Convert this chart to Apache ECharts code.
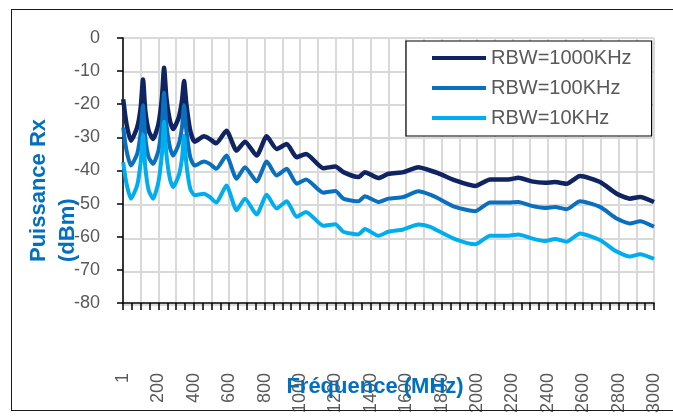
<!DOCTYPE html>
<html>
<head>
  <meta charset="utf-8" />
  <title>Puissance Rx</title>
  <script src="https://cdn.jsdelivr.net/npm/echarts@6/dist/echarts.min.js"></script>
  <style>
    html, body {
      margin: 0;
      padding: 0;
      background: #fff;
      overflow: hidden;
    }
    #main {
      width: 673px;
      height: 416px;
    }
    /* cadre extérieur, ouvert à droite */
    .frame {
      position: absolute;
      left: 11px;
      top: 9px;
      width: 662px;
      height: 400px;
      border: 1.5px solid #1a1a1a;
      border-right: none;
      pointer-events: none;
    }
  </style>
</head>
<body>
  <div id="main"></div>
  <div class="frame"></div>
  <script>
    // fréquences (MHz)
    var freq = [1, 20, 45, 80, 100, 113, 126, 145, 170, 200, 220, 232, 245, 265, 283, 315, 333, 345, 358, 380,
      405, 458, 490, 527, 584, 642, 689, 755, 812, 868, 925, 981, 1034, 1132, 1200, 1245, 1330, 1367, 1443, 1499,
      1584, 1669, 1735, 1780, 1876, 1989, 2074, 2177, 2234, 2309, 2384, 2441, 2507, 2582, 2695, 2789, 2864, 2921, 3000];

    // RBW=1000KHz
    var rbw1000 = [-18.5, -26, -31, -27, -21, -12.5, -22, -28, -30.5, -26, -18, -9, -18, -25, -27.5, -24, -19, -13, -20, -28,
      -31.3, -29.7, -30.5, -31.8, -28, -34, -31.3, -35.5, -29.7, -33.5, -32, -36, -35, -39.3, -38.8, -40.5, -42, -40.5, -42.3, -41,
      -40.5, -39, -40, -40.8, -43, -44.7, -42.7, -42.7, -42.2, -43.3, -43.7, -43.5, -44, -41.7, -43.5, -47, -48.5, -48, -49.5];

    // RBW=100KHz
    var rbw100 = [-27, -34, -38.5, -35, -28.5, -20.3, -30, -36, -38, -34, -26, -16.5, -26, -33, -35.5, -32, -27, -20.3, -28, -36,
      -38.5, -37.3, -38, -39.5, -35.5, -42.5, -39, -43.3, -37.3, -41.5, -39.5, -44, -42.7, -46.7, -46.2, -48.5, -49.3, -47.8, -49.5, -48.5,
      -48, -46.3, -47.3, -48.4, -51, -52.3, -49.7, -49.7, -49.5, -50.7, -51.3, -51, -51.7, -49.3, -51, -54.5, -56, -55.3, -57];

    // RBW=10KHz
    var rbw10 = [-37.5, -44, -48.5, -44.5, -37.5, -29.3, -39, -46, -48.5, -43.5, -35, -25.3, -35, -42.5, -45, -41.5, -36.5, -29.5, -38, -45.5,
      -47.5, -47, -48, -49.7, -44.5, -52, -48.5, -53.3, -47.3, -51.5, -49.3, -54, -52.5, -56.7, -56.2, -58.5, -59.3, -57.7, -59.7, -58.5,
      -57.8, -56.3, -57, -58.2, -60.7, -62.3, -59.7, -59.7, -59.3, -60.5, -61.3, -60.7, -61.5, -59, -61, -64.5, -66, -65.3, -66.7];

    var seriesNames = ['RBW=1000KHz', 'RBW=100KHz', 'RBW=10KHz'];
    var seriesColors = ['#0f2461', '#0a6fbd', '#00aeef'];

    function pairs(xs, ys) {
      var out = [];
      for (var i = 0; i < xs.length; i++) {
        out.push([xs[i], ys[i]]);
      }
      return out;
    }

    var font = "'Liberation Sans', Arial, sans-serif";
    var gridColor = '#d9d9d9';
    var plotBox = { left: 123, right: 19, top: 38, bottom: 111 };
    var myChart = echarts.init(document.getElementById('main'));

    var option = {
      animation: false,
      // grid 0 : la grille grise seule ; grid 1 : axes + courbes
      grid: [
        { left: plotBox.left, right: plotBox.right, top: plotBox.top, bottom: plotBox.bottom },
        { left: plotBox.left, right: plotBox.right, top: plotBox.top, bottom: plotBox.bottom }
      ],
      legend: {
        orient: 'vertical',
        left: 406,
        top: 41,
        padding: [7, 20, 8, 26],
        itemGap: 10,
        itemWidth: 54,
        itemHeight: 4,
        icon: 'rect',
        backgroundColor: '#fff',
        borderColor: '#000',
        borderWidth: 1.2,
        textStyle: { fontSize: 20, color: '#595959', fontFamily: font },
        data: seriesNames
      },
      xAxis: [
        {
          gridIndex: 0,
          type: 'value',
          min: 0,
          max: 3000,
          interval: 100,
          axisLine: { lineStyle: { color: 'rgba(0,0,0,0)' } },
          axisTick: { lineStyle: { color: 'rgba(0,0,0,0)' } },
          axisLabel: { color: 'rgba(0,0,0,0)' },
          splitLine: { show: true, lineStyle: { color: gridColor, width: 2 } }
        },
        {
          gridIndex: 1,
          type: 'value',
          min: 0,
          max: 3000,
          interval: 100,
          axisLine: { show: true, onZero: false, lineStyle: { color: '#000', width: 1.5 } },
          axisTick: { show: true, length: 7, lineStyle: { color: '#000', width: 1.5 } },
          minorTick: { show: true, splitNumber: 2, length: 7, lineStyle: { color: '#000', width: 1.5 } },
          splitLine: { show: false },
          axisLabel: {
            rotate: 90,
            margin: 70,
            fontSize: 18,
            color: '#595959',
            fontFamily: font,
            formatter: function (v) {
              if (v === 0) return '1';
              return v % 200 === 0 ? String(v) : '';
            }
          }
        }
      ],
      yAxis: [
        {
          gridIndex: 0,
          type: 'value',
          min: -80,
          max: 0,
          interval: 10,
          axisLine: { lineStyle: { color: 'rgba(0,0,0,0)' } },
          axisTick: { lineStyle: { color: 'rgba(0,0,0,0)' } },
          axisLabel: { color: 'rgba(0,0,0,0)' },
          splitLine: { show: true, lineStyle: { color: gridColor, width: 2 } }
        },
        {
          gridIndex: 1,
          type: 'value',
          min: -80,
          max: 0,
          interval: 10,
          axisLine: { show: true, onZero: false, lineStyle: { color: '#000', width: 1.5 } },
          axisTick: { show: true, length: 6, lineStyle: { color: '#000', width: 1.5 } },
          splitLine: { show: false },
          axisLabel: { margin: 23, fontSize: 18, color: '#595959', fontFamily: font }
        }
      ],
      graphic: [
        {
          type: 'text',
          x: 24,
          y: 262,
          rotation: Math.PI / 2,
          z: 10,
          style: {
            text: 'Puissance Rx\n(dBm)',
            fill: '#0070c0',
            font: "bold 22px 'Liberation Sans', Arial, sans-serif",
            lineHeight: 29,
            align: 'left',
            verticalAlign: 'top'
          }
        },
        {
          type: 'text',
          x: 375,
          y: 387,
          z: 10,
          style: {
            text: 'Fréquence (MHz)',
            fill: '#0070c0',
            font: "bold 22px 'Liberation Sans', Arial, sans-serif",
            align: 'center',
            verticalAlign: 'middle'
          }
        }
      ],
      series: [0, 1, 2].map(function (i) {
        var ys = [rbw1000, rbw100, rbw10][i];
        return {
          name: seriesNames[i],
          type: 'line',
          xAxisIndex: 1,
          yAxisIndex: 1,
          smooth: 0.2,
          symbol: 'none',
          color: seriesColors[i],
          lineStyle: { width: i === 0 ? 4.5 : 4, color: seriesColors[i] },
          data: pairs(freq, ys)
        };
      })
    };
    myChart.setOption(option);
  </script>
</body>
</html>
